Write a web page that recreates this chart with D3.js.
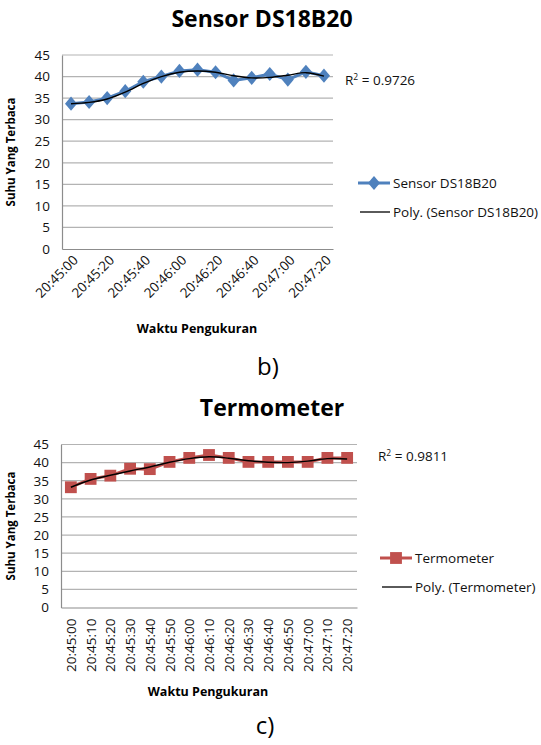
<!DOCTYPE html>
<html><head><meta charset="utf-8">
<script src="https://cdn.jsdelivr.net/npm/d3@7/dist/d3.min.js"></script>
<style>
html,body{margin:0;padding:0;background:#fff;}
svg{display:block;}
text{font-family:"Open Sans",sans-serif;}
</style></head>
<body>
<svg id="c" width="541" height="745"></svg>
<script>
// ---------- DATA ----------
const times = ["20:45:00","20:45:10","20:45:20","20:45:30","20:45:40","20:45:50","20:46:00","20:46:10","20:46:20","20:46:30","20:46:40","20:46:50","20:47:00","20:47:10","20:47:20"];
const yTicks = [0,5,10,15,20,25,30,35,40,45];

const sensorName = "Sensor DS18B20";
const sensorValues = [33.7,34.1,35.0,36.6,38.8,40.0,41.3,41.6,41.0,39.1,39.7,40.6,39.3,41.1,40.2];
const sensorTrend  = [33.7,34.0,34.8,36.4,38.4,40.0,41.0,41.3,41.0,40.2,39.7,39.8,40.3,40.9,40.1];
const sensorR2 = "0.9726";
const sensorXLabels = ["20:45:00","20:45:20","20:45:40","20:46:00","20:46:20","20:46:40","20:47:00","20:47:20"];

const termoName = "Termometer";
const termoValues = [33.2,35.5,36.4,38.3,38.2,40.2,41.3,42.1,41.3,40.2,40.2,40.2,40.2,41.3,41.3];
const termoTrend  = [33.2,35.2,36.5,37.7,38.8,40.1,41.1,41.6,41.2,40.5,40.1,40.0,40.4,41.1,41.0];
const termoR2 = "0.9811";

const svg = d3.select("#c");
const FONT = "'Open Sans',sans-serif";

function drawChart(o){
  const g = svg.append("g");
  const x = d3.scaleBand().domain(times).range([o.left,o.right]);
  const y = d3.scaleLinear().domain([0,45]).range([o.bottom,o.top]);
  const cx = d => x(d) + x.bandwidth()/2;
  const symT = o.symbol===d3.symbolDiamond ? " scale(1.3,0.88)" : "";

  // title
  g.append("text").attr("x",o.titleX).attr("y",o.titleY).attr("text-anchor","middle")
    .attr("font-size",23).attr("font-weight","bold").attr("fill","#000").text(o.title);

  // gridlines
  g.selectAll(".grid").data(yTicks.filter(t=>t>0)).join("line")
    .attr("x1",o.left).attr("x2",o.right).attr("y1",d=>y(d)).attr("y2",d=>y(d))
    .attr("stroke","#b3b3b3").attr("stroke-width",1.2);

  // y axis
  const ya = d3.axisLeft(y).tickValues(yTicks).tickSize(0).tickPadding(12);
  const yg = g.append("g").attr("transform",`translate(${o.left},0)`).call(ya);
  yg.select(".domain").attr("stroke","#8c8c8c").attr("stroke-width",1.2);
  yg.selectAll("text").attr("font-size",13.5).attr("fill","#111").attr("font-family",FONT);

  // x axis
  const xa = d3.axisBottom(x).tickSize(0).tickValues(o.xLabels).tickPadding(0);
  const xg = g.append("g").attr("transform",`translate(0,${o.bottom})`).call(xa);
  xg.select(".domain").attr("stroke","#8c8c8c").attr("stroke-width",1.2);
  xg.selectAll("text").attr("font-size",13.5).attr("fill","#111").attr("font-family",FONT)
    .attr("text-anchor","end").attr("dy",null).attr("y",0)
    .attr("transform",o.xLabelTransform);

  // axis titles
  g.append("text").attr("transform",`translate(${o.yTitleX},${(o.top+o.bottom)/2}) rotate(-90)`)
    .attr("text-anchor","middle").attr("font-size",11.5).attr("font-weight","bold").text("Suhu Yang Terbaca");
  g.append("text").attr("x",o.xTitleX).attr("y",o.xTitleY).attr("text-anchor","middle")
    .attr("font-size",12.5).attr("font-weight","bold").text("Waktu Pengukuran");

  // series line
  const line = d3.line().x((d,i)=>cx(times[i])).y(d=>y(d));
  g.append("path").datum(o.values).attr("d",line).attr("fill","none")
    .attr("stroke",o.color).attr("stroke-width",3);
  // markers
  const sym = d3.symbol().type(o.symbol).size(o.symSize);
  g.selectAll(".m").data(o.values).join("path")
    .attr("transform",(d,i)=>`translate(${cx(times[i])},${y(d)})${symT}`)
    .attr("d",sym).attr("fill",o.color);
  // trend
  const tl = d3.line().x((d,i)=>cx(times[i])).y(d=>y(d)).curve(d3.curveCatmullRom);
  g.append("path").datum(o.trend).attr("d",tl).attr("fill","none")
    .attr("stroke","#000").attr("stroke-width",1.4);

  // R2
  const r = g.append("text").attr("x",o.r2X).attr("y",o.r2Y).attr("font-size",13.5).attr("fill","#111");
  r.append("tspan").text("R");
  r.append("tspan").attr("font-size",8.5).attr("dy",-5).text("2");
  r.append("tspan").attr("dy",5).text(" = " + o.r2);

  // legend
  const lg = g.append("g");
  lg.append("line").attr("x1",o.legX).attr("x2",o.legX+32).attr("y1",o.legY).attr("y2",o.legY)
    .attr("stroke",o.color).attr("stroke-width",3);
  lg.append("path").attr("d",sym)
    .attr("transform",`translate(${o.legX+16},${o.legY})${symT}`)
    .attr("fill",o.color);
  lg.append("text").attr("x",o.legX+35).attr("y",o.legY+5).attr("font-size",13.5).attr("fill","#111").text(o.title);
  lg.append("line").attr("x1",o.legX+2).attr("x2",o.legX+32).attr("y1",o.legY+29).attr("y2",o.legY+29)
    .attr("stroke","#000").attr("stroke-width",1.3);
  lg.append("text").attr("x",o.legX+35).attr("y",o.legY+34).attr("font-size",13.5).attr("fill","#111")
    .text("Poly. (" + o.title + ")");

  // caption
  g.append("text").attr("x",o.capX).attr("y",o.capY).attr("text-anchor","middle")
    .attr("font-family","'Liberation Serif','DejaVu Serif',serif").attr("font-size",24).text(o.caption);
}

drawChart({
  title: sensorName, titleX: 262, titleY: 27,
  left: 62, right: 333, top: 55, bottom: 249,
  xLabels: sensorXLabels,
  xLabelTransform: "translate(8,12) rotate(-45)",
  yTitleX: 15, xTitleX: 197, xTitleY: 333,
  values: sensorValues, trend: sensorTrend, color: "#4f81bd",
  symbol: d3.symbolDiamond, symSize: 75,
  r2: sensorR2, r2X: 345, r2Y: 85,
  legX: 358, legY: 183,
  caption: "b)", capX: 268, capY: 375
});

drawChart({
  title: termoName, titleX: 272, titleY: 416,
  left: 61, right: 357, top: 444.5, bottom: 607.5,
  xLabels: times,
  xLabelTransform: "translate(5,11) rotate(-90)",
  yTitleX: 15, xTitleX: 208, xTitleY: 696,
  values: termoValues, trend: termoTrend, color: "#c0504d",
  symbol: d3.symbolSquare, symSize: 140,
  r2: termoR2, r2X: 378, r2Y: 461,
  legX: 380, legY: 558,
  caption: "c)", capX: 265, capY: 734
});
</script>
</body></html>
